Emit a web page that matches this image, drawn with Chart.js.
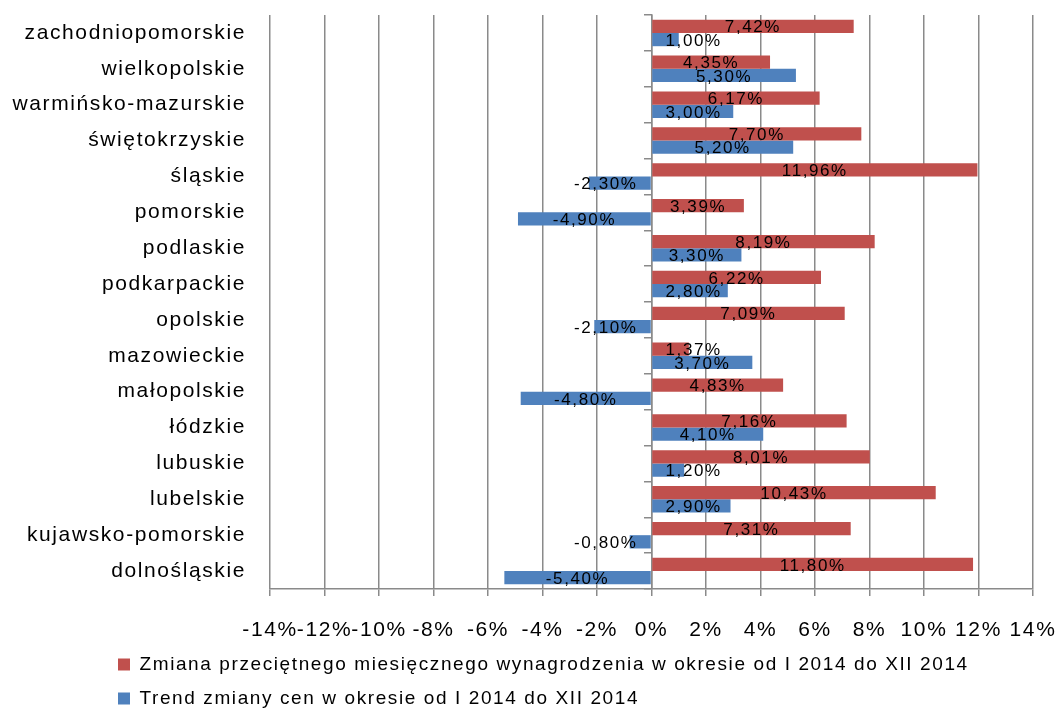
<!DOCTYPE html>
<html lang="pl">
<head>
<meta charset="utf-8">
<title>Wynagrodzenia i ceny 2014</title>
<script src="https://cdn.jsdelivr.net/npm/chart.js@4/dist/chart.umd.min.js"></script>
<style>
  html, body { margin: 0; padding: 0; background: #ffffff; }
  #wrap { width: 1061px; height: 718px; }
</style>
</head>
<body>
<div id="wrap"><canvas id="chart" width="1061" height="718"></canvas></div>
<script>
// Województwa, od góry do dołu
const regions = [
  'zachodniopomorskie', 'wielkopolskie', 'warmińsko-mazurskie', 'świętokrzyskie',
  'śląskie', 'pomorskie', 'podlaskie', 'podkarpackie', 'opolskie', 'mazowieckie',
  'małopolskie', 'łódzkie', 'lubuskie', 'lubelskie', 'kujawsko-pomorskie', 'dolnośląskie'
];

// Zmiana przeciętnego miesięcznego wynagrodzenia (%)
const wageChange = [
  7.42, 4.35, 6.17, 7.70, 11.96, 3.39, 8.19, 6.22, 7.09, 1.37,
  4.83, 7.16, 8.01, 10.43, 7.31, 11.80
];

// Trend zmiany cen (%)
const priceTrend = [
  1.00, 5.30, 3.00, 5.20, -2.30, -4.90, 3.30, 2.80, -2.10, 3.70,
  -4.80, 4.10, 1.20, 2.90, -0.80, -5.40
];

const seriesNames = [
  'Zmiana przeciętnego miesięcznego wynagrodzenia w okresie od I 2014 do XII 2014',
  'Trend zmiany cen w okresie od I 2014 do XII 2014'
];

// Oś wartości: od -14% do 14% co 2%
const axisMin = -14;
const axisMax = 14;
const axisStep = 2;

const FONT = "'Liberation Sans', Arial, sans-serif";
const GRID = '#8a8a8a';
const SPACING = '1.6px';
const LEGEND_SHIFT = 103;

const fmtPct = v => v.toFixed(2).replace('.', ',') + '%';

// Rozstrzelenie liter jak w wykresie arkusza kalkulacyjnego
const letterSpacingPlugin = {
  id: 'letterSpacing',
  beforeLayout(chart) { chart.ctx.letterSpacing = SPACING; },
  afterLayout(chart) {
    // legenda przesunięta w prawo, pod obszar wykresu
    const lg = chart.legend;
    if (lg) { lg.left += LEGEND_SHIFT; lg.right += LEGEND_SHIFT; }
  },
  beforeDraw(chart) { chart.ctx.letterSpacing = SPACING; }
};

// Etykiety wartości na słupkach, odsunięte od osi zera gdy słupek jest krótki
const valueLabels = {
  id: 'valueLabels',
  afterDatasetsDraw(chart) {
    const ctx = chart.ctx;
    const zero = chart.scales.x.getPixelForValue(0);
    const gap = 14;
    ctx.save();
    ctx.letterSpacing = SPACING;
    ctx.font = `17px ${FONT}`;
    ctx.fillStyle = '#000000';
    ctx.textBaseline = 'middle';
    ctx.textAlign = 'left';
    chart.data.datasets.forEach((ds, di) => {
      const meta = chart.getDatasetMeta(di);
      meta.data.forEach((bar, i) => {
        const v = ds.data[i];
        const text = fmtPct(v);
        const w = ctx.measureText(text).width;
        const p = bar.getProps(['x', 'y', 'base'], true);
        let left = (p.x + p.base) / 2 - w / 2;
        if (v >= 0) {
          left = Math.max(left, zero + gap);
        } else {
          left = Math.min(left, zero - gap - w);
        }
        ctx.fillText(text, left, p.y + 1.5);
      });
    });
    ctx.restore();
  }
};

new Chart(document.getElementById('chart'), {
  type: 'bar',
  data: {
    labels: regions,
    datasets: [
      { label: seriesNames[0], data: wageChange, backgroundColor: '#C0504D', yAxisID: 'y' },
      { label: seriesNames[1], data: priceTrend, backgroundColor: '#4F81BD', yAxisID: 'y' }
    ]
  },
  options: {
    indexAxis: 'y',
    responsive: false,
    animation: false,
    devicePixelRatio: 1,
    datasets: { bar: { barPercentage: 1.0, categoryPercentage: 0.74 } },
    layout: { padding: { top: 15, left: 0, right: 28, bottom: 0 } },
    scales: {
      x: {
        type: 'linear',
        min: axisMin,
        max: axisMax,
        ticks: {
          stepSize: axisStep,
          callback: v => v + '%',
          font: { family: FONT, size: 21 },
          color: '#000000',
          padding: 22,
          maxRotation: 0,
          autoSkip: false
        },
        grid: { color: GRID, lineWidth: 1.5, tickLength: 7, drawTicks: true },
        border: { display: true, color: GRID, width: 1.5 },
        afterFit(scale) {
          scale.height = 51;
          scale.paddingLeft = 0;
          scale.paddingRight = 0;
        }
      },
      y: {
        type: 'category',
        position: 'left',
        grid: { display: false, drawTicks: false },
        border: { display: false },
        ticks: { font: { family: FONT, size: 21 }, color: '#000000', padding: 24 },
        afterFit(scale) {
          scale.width = 270;
          scale.paddingTop = 0;
          scale.paddingBottom = 0;
        }
      },
      yZero: {
        type: 'category',
        position: { x: 0 },
        offset: true,
        ticks: { display: false },
        grid: { offset: true, drawOnChartArea: false, drawTicks: true, tickLength: 7, color: GRID, lineWidth: 1.5 },
        border: { display: true, color: GRID, width: 1.5 },
        afterFit(scale) {
          scale.paddingTop = 0;
          scale.paddingBottom = 0;
        }
      }
    },
    plugins: {
      legend: {
        position: 'bottom',
        align: 'start',
        labels: {
          font: { family: FONT, size: 19 },
          color: '#000000',
          boxWidth: 12,
          boxHeight: 12,
          padding: 15
        }
      },
      tooltip: { enabled: false }
    }
  },
  plugins: [letterSpacingPlugin, valueLabels]
});
</script>
</body>
</html>
